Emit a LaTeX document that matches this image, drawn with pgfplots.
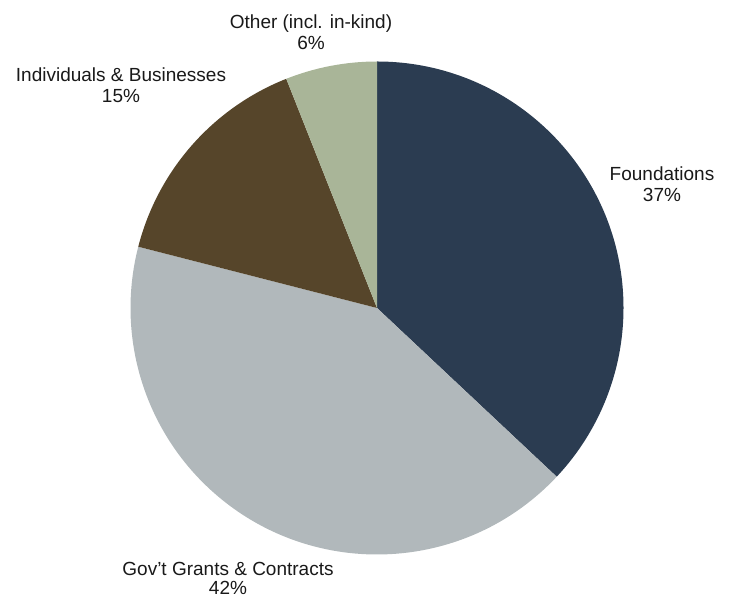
\documentclass[border=0pt]{standalone}
\usepackage{pgfplots}
\pgfplotsset{compat=1.18}
\usepackage{pgfplotstable}
\usepackage{fontspec}
\setmainfont{Liberation Sans}
\definecolor{cFound}{HTML}{2B3C51}
\definecolor{cGov}{HTML}{B1B8BB}
\definecolor{cInd}{HTML}{56452A}
\definecolor{cOther}{HTML}{A9B598}
\pgfplotstableread{
name value
Foundations 37
Gov 42
Individuals 15
Other 6
}\piedata
\begin{document}%
\pgfplotstablegetelem{0}{value}\of\piedata \let\vA\pgfplotsretval%
\pgfplotstablegetelem{1}{value}\of\piedata \let\vB\pgfplotsretval%
\pgfplotstablegetelem{2}{value}\of\piedata \let\vC\pgfplotsretval%
\pgfplotstablegetelem{3}{value}\of\piedata \let\vD\pgfplotsretval%
\pgfmathsetmacro{\aA}{90-3.6*\vA}%
\pgfmathsetmacro{\aB}{\aA-3.6*\vB}%
\pgfmathsetmacro{\aC}{\aB-3.6*\vC}%
\pgfmathsetmacro{\aD}{\aC-3.6*\vD}%
\begin{tikzpicture}
\begin{axis}[width=732bp,height=597bp,scale only axis,
  xmin=0,xmax=732,ymin=0,ymax=597,hide axis,clip=false]
\path (axis cs:0,0) rectangle (axis cs:732,597);
\fill[cFound] (axis cs:377,289) -- ++(90:246.5bp) arc[start angle=90,end angle=\aA,radius=246.5bp] -- cycle;
\fill[cGov] (axis cs:377,289) -- ++(\aA:246.5bp) arc[start angle=\aA,end angle=\aB,radius=246.5bp] -- cycle;
\fill[cInd] (axis cs:377,289) -- ++(\aB:246.5bp) arc[start angle=\aB,end angle=\aC,radius=246.5bp] -- cycle;
\fill[cOther] (axis cs:377,289) -- ++(\aC:246.5bp) arc[start angle=\aC,end angle=\aD,radius=246.5bp] -- cycle;
\begin{scope}[every node/.style={align=center,font=\fontsize{19bp}{21bp}\selectfont,text=black!90,inner sep=0pt}]
\node at (axis cs:662,413) {Foundations\\37\%};
\node[font=\fontsize{19bp}{19bp}\selectfont] at (axis cs:228,19) {Gov't Grants \& Contracts\\42\%};
\node at (axis cs:121,512) {Individuals \& Businesses\\15\%};
\node at (axis cs:311,565) {Other (incl. in-kind)\\6\%};
\end{scope}
\end{axis}
\end{tikzpicture}%
\end{document}
